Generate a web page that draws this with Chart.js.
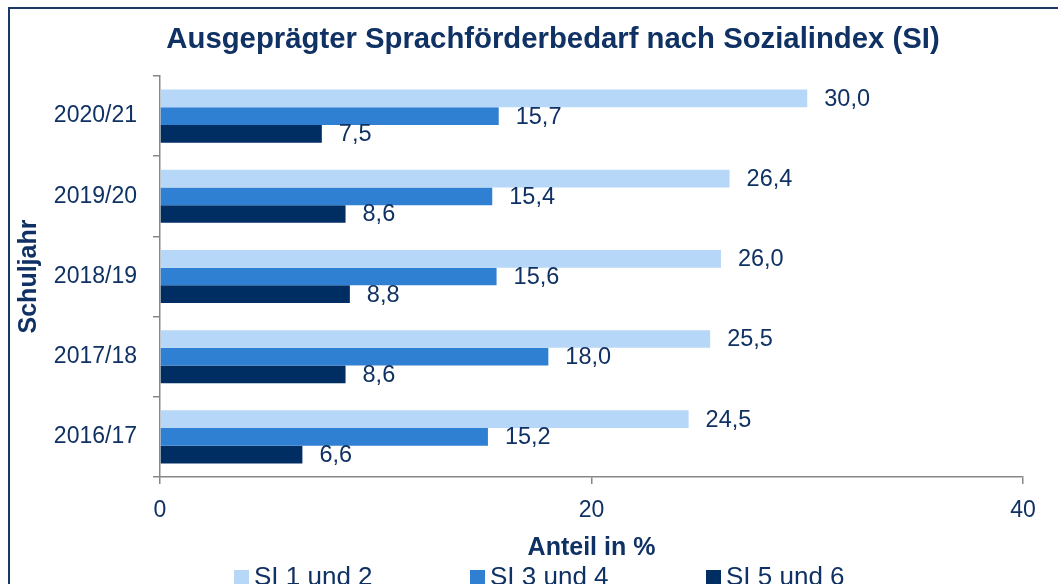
<!DOCTYPE html>
<html><head><meta charset="utf-8">
<script src="https://cdn.jsdelivr.net/npm/chart.js@4.4.0/dist/chart.umd.min.js"></script>
<style>
html,body{margin:0;padding:0;background:#fff;overflow:hidden;width:1058px;height:584px;}
#frame{position:absolute;left:8px;top:7px;width:1100px;height:700px;border:2px solid #1a3a66;box-sizing:border-box;}
#c{position:absolute;left:0;top:0;}
</style></head><body>
<div id="frame"></div>
<canvas id="c" width="1058" height="584"></canvas>
<script>
const categories = ['2020/21', '2019/20', '2018/19', '2017/18', '2016/17'];
const seriesNames = ['SI 1 und 2', 'SI 3 und 4', 'SI 5 und 6'];
const si12 = [30.0, 26.4, 26.0, 25.5, 24.5];
const si34 = [15.7, 15.4, 15.6, 18.0, 15.2];
const si56 = [7.5, 8.6, 8.8, 8.6, 6.6];
const xTickValues = [0, 20, 40];
const titleText = 'Ausgeprägter Sprachförderbedarf nach Sozialindex (SI)';
const xTitle = 'Anteil in %';
const yTitle = 'Schuljahr';

const textColor = '#0f3163';
const axisColor = '#878787';
const colors = ['#b6d7f7', '#2f80d2', '#002d62'];
const FONT = '"Liberation Sans", Arial, sans-serif';

const chartTitle = {
  id: 'chartTitle',
  afterDraw(chart) {
    const ctx = chart.ctx;
    ctx.save();
    ctx.font = 'bold 29.3px ' + FONT;
    ctx.fillStyle = textColor;
    ctx.textAlign = 'center';
    ctx.textBaseline = 'middle';
    ctx.fillText(titleText, 553, 40);
    ctx.restore();
  }
};

const valueLabels = {
  id: 'valueLabels',
  afterDatasetsDraw(chart) {
    const ctx = chart.ctx;
    ctx.save();
    ctx.font = '23.5px ' + FONT;
    ctx.fillStyle = textColor;
    ctx.textAlign = 'left';
    ctx.textBaseline = 'middle';
    chart.data.datasets.forEach((ds, i) => {
      const meta = chart.getDatasetMeta(i);
      meta.data.forEach((bar, j) => {
        ctx.fillText(ds.data[j].toFixed(1).replace('.', ','), bar.x + 17, bar.y + 1);
      });
    });
    ctx.restore();
  }
};

const bottomLegend = {
  id: 'bottomLegend',
  afterDraw(chart) {
    const ctx = chart.ctx;
    ctx.save();
    ctx.font = '26px ' + FONT;
    ctx.textAlign = 'left';
    ctx.textBaseline = 'middle';
    chart.data.datasets.forEach((ds, i) => {
      const x = 234 + i * 236;
      ctx.fillStyle = ds.backgroundColor;
      ctx.fillRect(x, 570, 15, 15);
      ctx.fillStyle = textColor;
      ctx.fillText(ds.label, x + 20, 578);
    });
    ctx.restore();
  }
};

new Chart(document.getElementById('c'), {
  type: 'bar',
  data: {
    labels: categories,
    datasets: [
      { label: seriesNames[0], data: si12, backgroundColor: colors[0] },
      { label: seriesNames[1], data: si34, backgroundColor: colors[1] },
      { label: seriesNames[2], data: si56, backgroundColor: colors[2] }
    ]
  },
  options: {
    indexAxis: 'y',
    responsive: false,
    animation: false,
    devicePixelRatio: 1,
    layout: { padding: { left: 14, right: 35, top: 76, bottom: 0 } },
    datasets: { bar: { categoryPercentage: 0.6625, barPercentage: 1.0, borderWidth: 0 } },
    plugins: {
      legend: { display: false },
      tooltip: { enabled: false },
      title: { display: false }
    },
    scales: {
      x: {
        min: 0, max: 40,
        afterFit(scale) { scale.height = 107; },
        afterBuildTicks(scale) { scale.ticks = xTickValues.map(v => ({ value: v })); },
        ticks: { color: textColor, font: { family: FONT, size: 23 }, padding: 13 },
        grid: { display: true, drawOnChartArea: false, tickLength: 7, color: axisColor, lineWidth: 1.5 },
        border: { display: true, color: axisColor, width: 1.5 },
        title: { display: true, text: xTitle, color: textColor, font: { family: FONT, size: 25, weight: 'bold' }, padding: { top: 0, bottom: 21 } }
      },
      y: {
        afterFit(scale) { scale.width = 146; },
        ticks: { color: textColor, font: { family: FONT, size: 23 }, padding: 16 },
        grid: { display: true, drawOnChartArea: false, offset: true, tickLength: 7, color: axisColor, lineWidth: 1.5 },
        border: { display: true, color: axisColor, width: 1.5 },
        title: { display: true, text: yTitle, color: textColor, font: { family: FONT, size: 25, weight: 'bold' }, padding: { top: 0, bottom: 0 } }
      }
    }
  },
  plugins: [valueLabels, bottomLegend, chartTitle]
});
</script>
</body></html>
